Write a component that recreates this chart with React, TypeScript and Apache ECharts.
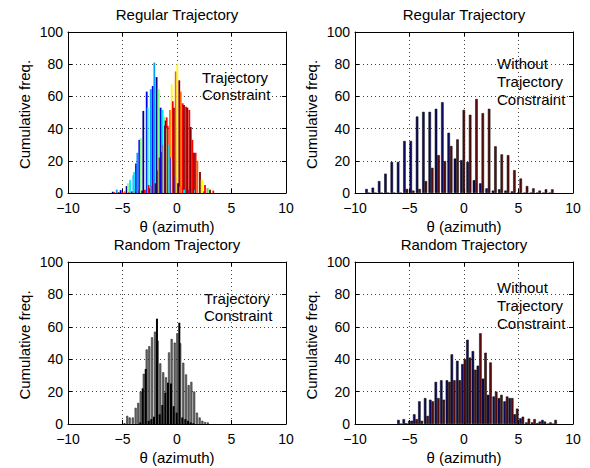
import React, { useEffect, useRef } from 'react';
import * as echarts from 'echarts';

const FONT = '"Liberation Sans", Arial, Helvetica, sans-serif';

// jet-like colours used in the top-left panel
const tlPalette = ['#00008F', '#0000FF', '#00A0FF', '#00E8FF', '#80FF80', '#FFFF00', '#FF6000', '#FF0000', '#800000'];

// Top-left: Regular trajectory, with constraint (bars of several colours)
const tlX = [-5.9, -5.75, -5.53, -5.35, -5.17, -5.0, -4.8, -4.62, -4.5, -4.4, -4.31, -4.15, -4.0, -3.94, -3.8, -3.76, -3.64, -3.55, -3.46, -3.33, -3.2, -3.09, -2.95, -2.78, -2.69, -2.6, -2.5, -2.41, -2.33, -2.23, -2.15, -2.08, -1.97, -1.87, -1.78, -1.68, -1.6, -1.5, -1.4, -1.31, -1.24, -1.19, -1.1, -1.04, -0.95, -0.9, -0.85, -0.72, -0.64, -0.55, -0.49, -0.39, -0.3, -0.28, -0.15, -0.12, 0.03, 0.1, 0.21, 0.3, 0.34, 0.52, 0.64, 0.65, 0.83, 0.95, 1.0, 1.13, 1.26, 1.41, 1.56, 1.65, 1.71, 1.87, 2.11, 2.26, 2.32, 2.5, 2.57, 2.81, 2.86, 3.03, 3.33];
const tlY = [0.8, 0.5, 2.1, 0.5, 1.8, 0.5, 1, 4.3, 6, 0.5, 8, 1, 11, 13, 1, 18.4, 25, 1.5, 33, 34, 1.5, 51, 2, 63, 53, 5, 3, 64.5, 4.5, 66.5, 8, 81, 6, 72, 14, 64.5, 22, 53, 25.5, 51.6, 30, 47.4, 42, 45, 47, 40, 41.7, 30, 51.6, 22, 67.5, 57, 20, 53, 10, 75.5, 80, 6, 70, 4, 63, 55.7, 54.7, 2, 53.6, 53, 2, 51.6, 41, 33, 25, 2, 25, 20, 13, 8, 8, 1, 5, 3, 3, 2, 1.5];
const tlC = [0, 7, 2, 8, 1, 7, 6, 0, 4, 7, 3, 8, 2, 3, 7, 1, 2, 6, 1, 4, 8, 0, 7, 1, 3, 7, 8, 2, 6, 1, 7, 2, 8, 0, 8, 4, 7, 1, 8, 3, 7, 4, 8, 1, 7, 4, 7, 3, 6, 1, 5, 7, 3, 8, 1, 6, 5, 0, 8, 3, 6, 7, 8, 3, 7, 8, 1, 7, 8, 7, 8, 3, 7, 6, 8, 4, 5, 1, 7, 7, 4, 8, 7];

// Top-right: Regular trajectory, without constraint
const trX = [-8.83, -8.25, -7.67, -7.09, -6.51, -5.93, -5.35, -4.77, -4.19, -3.61, -3.03, -2.45, -1.87, -1.29, -0.71, -0.13, 0.45, 1.03, 1.61, 2.19, 2.77, 3.35, 3.93, 4.51, 5.09, 5.67, 6.25, 6.83, 7.41, 7.99];
const trBlue = [2.5, 3.3, 7.4, 12, 19.3, 19.3, 32.3, 32.3, 47.5, 50.4, 50.4, 52.3, 56.4, 37.4, 21.4, 20.4, 19.3, 8, 6, 2.9, 1.5, 2.3, 1.5, 1, 0, 0, 0, 0, 0, 0];
const trRed = [0, 0, 0, 0, 0, 0, 2.5, 1.5, 2.5, 7.4, 15.6, 23.5, 19.8, 29.2, 33.3, 51.6, 48.6, 58.4, 49.6, 52.3, 29, 24, 23.5, 14.2, 9, 4.3, 2.9, 1.5, 2.3, 2.3];

// Bottom-left: Random trajectory, with constraint
const blX = [-4.72, -4.47, -4.25, -3.97, -3.7, -3.46, -3.24, -2.96, -2.69, -2.45, -2.2, -1.93, -1.68, -1.44, -1.17, -0.92, -0.64, -0.4, -0.12, 0.12, 0.39, 0.67, 0.92, 1.16, 1.41, 1.67, 1.92, 2.17, 2.42, 2.67, 2.92];
const blGray = [0.5, 5, 4, 4, 10, 13, 20, 31, 46, 48, 53.5, 57, 51.4, 37.4, 31.9, 28.8, 44.2, 52.5, 50.2, 56, 49.8, 37.8, 30.6, 24, 26, 20, 7, 4, 2, 1.2, 1];
const blBlack = [0, 0, 0, 0, 0, 1, 22, 34, 2, 3, 4.5, 65, 6, 11.7, 19.3, 25.5, 25, 11, 7, 62.5, 4, 3, 2, 1, 0.5, 0, 0, 0, 0, 0, 0];

// Bottom-right: Random trajectory, without constraint
const brX = [-5.9, -5.41, -4.9, -4.45, -3.98, -3.45, -2.98, -2.47, -1.97, -1.45, -1.0, -0.5, -0.03, 0.43, 0.93, 1.39, 1.86, 2.32, 2.84, 3.32, 3.84, 4.31, 4.77, 5.29, 5.84, 6.36, 6.84, 7.31, 7.82, 8.29];
const brBlue = [2.5, 3, 2, 6, 14, 16, 15, 26, 27, 27, 43, 39, 37, 52, 45, 36, 28, 18, 17, 16, 14, 16, 6, 3.5, 1, 1, 0.5, 2.5, 0, 0];
const brRed = [0, 0.5, 2, 3, 2, 5, 14, 16, 15, 26, 27, 27, 40, 41, 33.5, 56, 44, 38, 20, 18, 17, 16, 9.5, 4.5, 3.3, 3, 1.5, 1.5, 1, 2.5];

const panelTitles = ['Regular Trajectory', 'Regular Trajectory', 'Random Trajectory', 'Random Trajectory'];
const xLabel = 'θ (azimuth)';
const yLabel = 'Cumulative freq.';
const withNote = ['Trajectory', 'Constraint'];
const withoutNote = ['Without', 'Trajectory', 'Constraint'];

const grids = [
  { left: 68, top: 32, width: 218, height: 161 },
  { left: 355, top: 32, width: 218, height: 161 },
  { left: 68, top: 262, width: 218, height: 162 },
  { left: 355, top: 262, width: 218, height: 162 },
];

const fmtMinus = (v: number) => (v < 0 ? '\u2212' + Math.abs(v) : String(v));

function buildOption() {
  const xAxis: any[] = [];
  const yAxis: any[] = [];
  grids.forEach((_, i) => {
    const common = {
      gridIndex: i,
      type: 'value',
      axisLine: { show: true, onZero: false, lineStyle: { color: '#000', width: 1 } },
      axisTick: { show: true, inside: true, length: 4, lineStyle: { color: '#000' } },
    };
    xAxis.push({
      ...common,
      position: 'bottom',
      min: -10, max: 10, interval: 5,
      axisLabel: { show: true, color: '#000', fontSize: 14, fontFamily: FONT, margin: 8, formatter: fmtMinus, showMinLabel: true, showMaxLabel: true },
      splitLine: { show: true, lineStyle: { color: '#444', type: [1, 3], width: 1 } },
    });
    xAxis.push({
      ...common,
      position: 'top',
      min: -10, max: 10, interval: 5,
      axisLabel: { show: false },
      splitLine: { show: false },
    });
    yAxis.push({
      ...common,
      position: 'left',
      min: 0, max: 100, interval: 20,
      axisLabel: { show: true, color: '#000', fontSize: 14, fontFamily: FONT, margin: 5, showMinLabel: true, showMaxLabel: true },
      splitLine: { show: true, lineStyle: { color: '#444', type: [1, 3], width: 1 } },
    });
    yAxis.push({
      ...common,
      position: 'right',
      min: 0, max: 100, interval: 20,
      axisLabel: { show: false },
      splitLine: { show: false },
    });
  });

  const series: any[] = [
    {
      type: 'bar', xAxisIndex: 0, yAxisIndex: 0, barWidth: 1.8,
      data: tlX.map((x, i) => ({ value: [x, tlY[i]], itemStyle: { color: tlPalette[tlC[i]] } })),
    },
    {
      type: 'bar', xAxisIndex: 2, yAxisIndex: 2, barWidth: 2.5, barGap: '0%',
      itemStyle: { color: '#0c0c66', borderColor: '#000', borderWidth: 0.5 },
      data: trX.map((x, i) => [x, trBlue[i]]),
    },
    {
      type: 'bar', xAxisIndex: 2, yAxisIndex: 2, barWidth: 2.5, barGap: '0%',
      itemStyle: { color: '#5e0c0c', borderColor: '#000', borderWidth: 0.5 },
      data: trX.map((x, i) => [x, trRed[i]]),
    },
    {
      type: 'bar', xAxisIndex: 4, yAxisIndex: 4, barWidth: 2, barGap: '0%',
      itemStyle: { color: '#707070', borderColor: '#111', borderWidth: 0.5 },
      data: blX.map((x, i) => [x, blGray[i]]),
    },
    {
      type: 'bar', xAxisIndex: 4, yAxisIndex: 4, barWidth: 2, barGap: '0%',
      itemStyle: { color: '#000' },
      data: blX.map((x, i) => [x, blBlack[i]]),
    },
    {
      type: 'bar', xAxisIndex: 6, yAxisIndex: 6, barWidth: 2.5, barGap: '0%',
      itemStyle: { color: '#0c0c66', borderColor: '#000', borderWidth: 0.5 },
      data: brX.map((x, i) => [x, brBlue[i]]),
    },
    {
      type: 'bar', xAxisIndex: 6, yAxisIndex: 6, barWidth: 2.5, barGap: '0%',
      itemStyle: { color: '#5e0c0c', borderColor: '#000', borderWidth: 0.5 },
      data: brX.map((x, i) => [x, brRed[i]]),
    },
  ];

  const textStyle = (t: string, extra: any = {}) => ({
    text: t, fill: '#000', fontSize: 15, fontFamily: FONT, ...extra,
  });

  const graphic: any[] = [];
  grids.forEach((g, i) => {
    const cx = g.left + g.width / 2;
    const cy = g.top + g.height / 2;
    graphic.push({ type: 'text', x: cx, y: g.top - 18, style: textStyle(panelTitles[i], { align: 'center', verticalAlign: 'middle' }) });
    graphic.push({ type: 'text', x: cx, y: g.top + g.height + 33, style: textStyle(xLabel, { align: 'center', verticalAlign: 'middle' }) });
    graphic.push({ type: 'text', x: g.left - 44, y: cy + 2, rotation: Math.PI / 2, style: textStyle(yLabel, { align: 'center', verticalAlign: 'middle' }) });
  });
  // annotations
  withNote.forEach((t, j) => {
    graphic.push({ type: 'text', x: 202, y: 77 + j * 17, style: textStyle(t, { align: 'left', verticalAlign: 'middle' }) });
    graphic.push({ type: 'text', x: 204, y: 298 + j * 17, style: textStyle(t, { align: 'left', verticalAlign: 'middle' }) });
  });
  withoutNote.forEach((t, j) => {
    graphic.push({ type: 'text', x: 497, y: 63 + j * 18, style: textStyle(t, { align: 'left', verticalAlign: 'middle' }) });
    graphic.push({ type: 'text', x: 497, y: 287 + j * 18, style: textStyle(t, { align: 'left', verticalAlign: 'middle' }) });
  });

  return {
    animation: false,
    backgroundColor: '#fff',
    grid: grids.map((g) => ({ ...g, containLabel: false })),
    xAxis,
    yAxis,
    series,
    graphic,
  };
}

export default function App() {
  const ref = useRef<HTMLDivElement>(null);
  useEffect(() => {
    if (!ref.current) return;
    const chart = echarts.init(ref.current, undefined, { renderer: 'svg' });
    chart.setOption(buildOption() as any);
    return () => chart.dispose();
  }, []);
  return <div ref={ref} style={{ position: 'absolute', left: 0, top: 0, width: 590, height: 468, background: '#fff' }} />;
}
